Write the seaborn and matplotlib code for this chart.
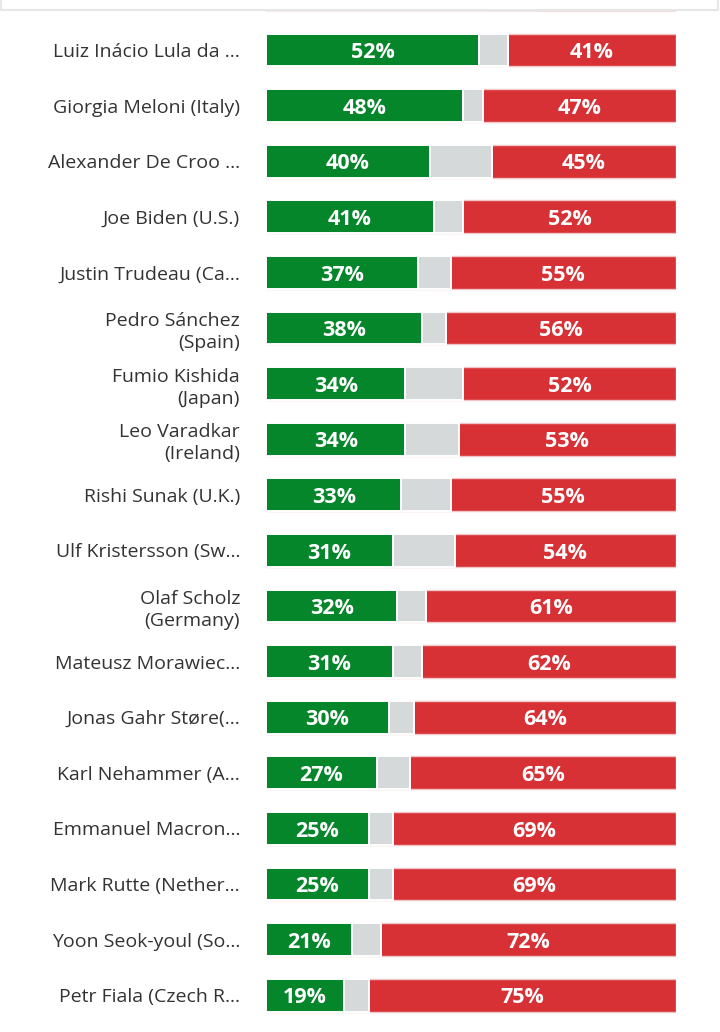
import pandas as pd
import numpy as np
import seaborn as sns
import matplotlib.pyplot as plt
from matplotlib.patches import Rectangle

# Leader approval ratings (first row is the one cut off under the header)
leaders = ['Alain Berset (Swi...',
           'Luiz Inácio Lula da ...', 'Giorgia Meloni (Italy)', 'Alexander De Croo ...',
           'Joe Biden (U.S.)', 'Justin Trudeau (Ca...', 'Pedro Sánchez\n(Spain)',
           'Fumio Kishida\n(Japan)', 'Leo Varadkar\n(Ireland)', 'Rishi Sunak (U.K.)',
           'Ulf Kristersson (Sw...', 'Olaf Scholz\n(Germany)', 'Mateusz Morawiec...',
           'Jonas Gahr Støre(...', 'Karl Nehammer (A...', 'Emmanuel Macron...',
           'Mark Rutte (Nether...', 'Yoon Seok-youl (So...', 'Petr Fiala (Czech R...']
approve = [53, 52, 48, 40, 41, 37, 38, 34, 34, 33, 31, 32, 31, 30, 27, 25, 25, 21, 19]
disapprove = [34, 41, 47, 45, 52, 55, 56, 52, 53, 55, 54, 61, 62, 64, 65, 69, 69, 72, 75]

df = pd.DataFrame({'leader': leaders, 'approve': approve, 'disapprove': disapprove})
df['unsure'] = 100 - df['approve'] - df['disapprove']
df['approve_unsure'] = df['approve'] + df['unsure']
df['total'] = df['approve_unsure'] + df['disapprove']

green = '#05862b'
grey = '#d5d9da'
red = '#d73136'

sns.set_style('white')
plt.rcParams['font.family'] = ['Open Sans', 'DejaVu Sans']

fig = plt.figure(figsize=(7.2, 10.32), dpi=100)
ax = fig.add_axes([266 / 720, 0, 410 / 720, 1])

# layered bars: full red, then grey, then green on top
sns.barplot(data=df, x='total', y='leader', color=red, width=0.59, saturation=1,
            edgecolor='#f3c4c5', linewidth=1, ax=ax)
sns.barplot(data=df, x='approve_unsure', y='leader', color=grey, width=0.59, saturation=1,
            edgecolor='white', linewidth=1.4, ax=ax)
sns.barplot(data=df, x='approve', y='leader', color=green, width=0.59, saturation=1,
            edgecolor='white', linewidth=1.4, ax=ax)

# fade the row hidden under the header
for p in ax.patches:
    if p.get_y() + p.get_height() / 2 < 0.5:
        p.set_alpha(0.25)

for i, row in df.iterrows():
    if i == 0:
        continue
    ax.text(row['approve'] / 2, i + 0.05, f"{row['approve']}%", color='white',
            ha='center', va='center', fontsize=15.5, fontweight='bold')
    ax.text(row['approve_unsure'] + row['disapprove'] / 2, i + 0.05,
            f"{row['disapprove']}%", color='white',
            ha='center', va='center', fontsize=15.5, fontweight='bold')

ax.set_xlim(0, 100)
ax.set_ylim(18.662, 0.1007)
ax.set_xlabel('')
ax.set_ylabel('')
ax.set_xticks([])
ax.tick_params(axis='y', length=0, pad=18.7, labelsize=14, labelcolor='#333333')
for lbl in ax.get_yticklabels():
    lbl.set_linespacing(1.3)
sns.despine(ax=ax, left=True, bottom=True)

# header box at the top edge
fig.add_artist(Rectangle((1 / 720, 1 - 10 / 1032), 717 / 720, 20 / 1032,
                         transform=fig.transFigure, facecolor='white',
                         edgecolor='#e6e6e6', linewidth=1.5, zorder=10))

fig.savefig('out.png', dpi=100)
